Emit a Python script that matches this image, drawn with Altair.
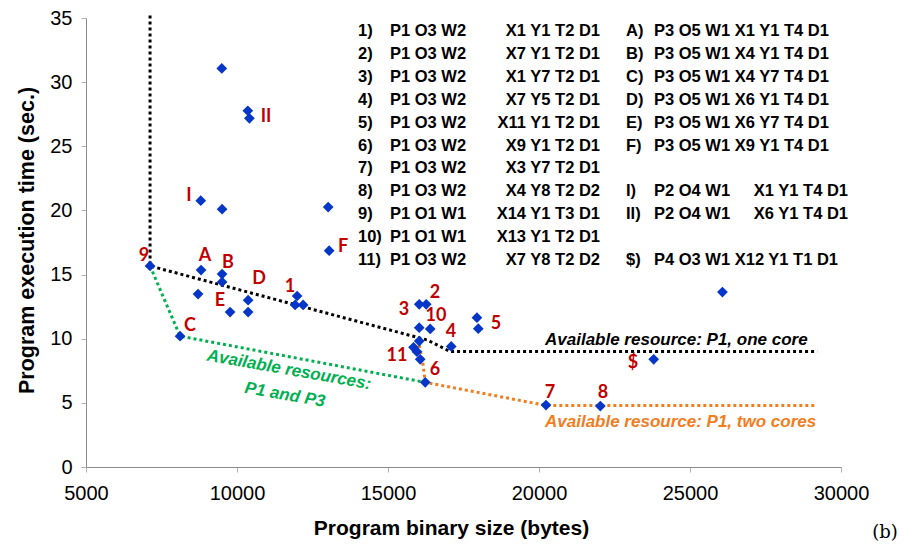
import altair as alt
import pandas as pd

# ---------------- data ----------------
pt_x = [7121, 8115, 8810, 9506, 9506, 8711, 9771, 10368, 10368,
        11991, 11925, 12190, 13052, 13019, 8800, 9506, 9496, 10358, 10411,
        26074, 16034, 16266, 16034, 16398, 16034, 15845, 15958, 16067,
        17094, 17945, 17989, 16233, 20232, 22031, 23798]
pt_y = [15.67, 10.2, 15.35, 15.04, 14.42, 13.48, 12.08, 13.0, 12.08,
        13.33, 12.63, 12.63, 16.86, 20.26, 20.76, 20.1, 31.07, 27.77, 27.18,
        13.64, 12.68, 12.68, 10.86, 10.76, 9.82, 9.33, 8.99, 8.39,
        9.4, 11.64, 10.78, 6.6, 4.83, 4.75, 8.39]

lab_text = ["9", "A", "B", "C", "D", "E", "1", "F", "I", "II",
            "2", "3", "10", "4", "5", "11", "6", "7", "8", "$"]
lab_px = [144, 205, 228, 190, 259, 220, 290, 343, 189, 266,
          435, 404, 436, 451, 496, 397, 435, 550, 603, 633]
lab_py = [256, 256, 263, 326, 279, 301, 287, 247, 196, 117,
          293, 310, 316, 332, 324, 356, 370, 393, 393, 363]

black_x = [7121, 7121, 16300, 17061, 29211]
black_y = [35.2, 15.67, 9.9, 9.0, 9.0]
green_x = [7121, 8115, 16233]
green_y = [15.67, 10.2, 6.6]
orange_x = [16034, 16150, 16233, 20232, 29211]
orange_y = [9.5, 8.2, 6.6, 4.8, 4.8]

leg_num = ["1)", "2)", "3)", "4)", "5)", "6)", "7)", "8)", "9)", "10)", "11)"]
leg_pow = ["P1 O3 W2", "P1 O3 W2", "P1 O3 W2", "P1 O3 W2", "P1 O3 W2", "P1 O3 W2",
           "P1 O3 W2", "P1 O3 W2", "P1 O1 W1", "P1 O1 W1", "P1 O3 W2"]
leg_rest = ["X1 Y1 T2 D1", "X7 Y1 T2 D1", "X1 Y7 T2 D1", "X7 Y5 T2 D1", "X11 Y1 T2 D1",
            "X9 Y1 T2 D1", "X3 Y7 T2 D1", "X4 Y8 T2 D2", "X14 Y1 T3 D1",
            "X13 Y1 T2 D1", "X7 Y8 T2 D2"]
right_lab = ["A)", "B)", "C)", "D)", "E)", "F)", "I)", "II)", "$)"]
right_row = [0, 1, 2, 3, 4, 5, 7, 8, 10]
right_text = ["P3 O5 W1 X1 Y1 T4 D1", "P3 O5 W1 X4 Y1 T4 D1", "P3 O5 W1 X4 Y7 T4 D1",
              "P3 O5 W1 X6 Y1 T4 D1", "P3 O5 W1 X6 Y7 T4 D1", "P3 O5 W1 X9 Y1 T4 D1",
              "P2 O4 W1", "P2 O4 W1", "P4 O3 W1 X12 Y1 T1 D1"]
right_tail = ["", "", "", "", "", "", "X1 Y1 T4 D1", "X6 Y1 T4 D1", ""]

# ---------------- layout helpers (pixel -> data) ----------------
W, H = 755, 449
XD = [5000, 30000]
YD = [0, 35]


def X(px):
    return XD[0] + (px - 86) / W * (XD[1] - XD[0])


def Y(py):
    return (467 - py) / H * (YD[1] - YD[0])


xs = alt.Scale(domain=XD, nice=False, zero=False)
ys = alt.Scale(domain=YD, nice=False)

BLUE = "#0536C8"
RED = "#C00000"
GREEN = "#00B050"
ORANGE = "#F07D1E"

pts = pd.DataFrame({"x": pt_x, "y": pt_y})
labs = pd.DataFrame({"x": [X(p) for p in lab_px], "y": [Y(p) for p in lab_py], "t": lab_text})


def line_df(xv, yv):
    return pd.DataFrame({"x": xv, "y": yv, "o": list(range(len(xv)))})


def dotted(df, color):
    return alt.Chart(df).mark_line(color=color, strokeWidth=3, strokeDash=[3, 3],
                                   strokeCap="butt", clip=False).encode(
        x=alt.X("x:Q", scale=xs), y=alt.Y("y:Q", scale=ys), order="o:Q")


base_x = alt.X("x:Q", scale=xs,
               axis=alt.Axis(title="Program binary size (bytes)", values=[5000, 10000, 15000, 20000, 25000, 30000],
                             format="d", titleX=365, titleY=61, titleBaseline="middle",
                             titleFontSize=21, labelFlush=False, labelPadding=11))
base_y = alt.Y("y:Q", scale=ys,
               axis=alt.Axis(title="Program execution time (sec.)", values=[0, 5, 10, 15, 20, 25, 30, 35],
                             titleX=-59, titleY=222, titleAngle=-90, titleBaseline="middle",
                             titleFontSize=21.5, labelFlush=False, labelPadding=9))

lines = (dotted(line_df(green_x, green_y), GREEN)
         + dotted(line_df(orange_x, orange_y), ORANGE)
         + dotted(line_df(black_x, black_y), "black"))

points = alt.Chart(pts).mark_point(shape="diamond", filled=True, size=115, opacity=1,
                                   color=BLUE).encode(x=base_x, y=base_y)

labels = alt.Chart(labs).mark_text(font="Lato", fontWeight="bold", fontSize=18, color=RED,
                                   baseline="middle", align="center").encode(
    x=alt.X("x:Q", scale=xs), y=alt.Y("y:Q", scale=ys), text="t:N")

# legend block
row_py = [31 + i * 22.9 for i in range(11)]
LF = "Liberation Sans"
LFS = 16.5
left_df = pd.DataFrame({
    "yn": [Y(p) for p in row_py],
    "num": leg_num, "pw": leg_pow, "rest": leg_rest})
left_df["xa"] = X(358)
left_df["xb"] = X(390)
left_df["xc"] = X(600)


def legtext(df, xfield, tfield, align):
    return alt.Chart(df).mark_text(font=LF, fontWeight="bold", fontSize=LFS, color="black",
                                   align=align, baseline="middle").encode(
        x=alt.X(f"{xfield}:Q", scale=xs), y=alt.Y("yn:Q", scale=ys), text=f"{tfield}:N")


right_df = pd.DataFrame({
    "yn": [Y(row_py[r]) for r in right_row],
    "lab": right_lab, "txt": right_text, "tail": right_tail})
right_df["xa"] = X(626)
right_df["xb"] = X(654)
right_df["xc"] = X(848)

legend = (legtext(left_df, "xa", "num", "left") + legtext(left_df, "xb", "pw", "left")
          + legtext(left_df, "xc", "rest", "right")
          + legtext(right_df, "xa", "lab", "left") + legtext(right_df, "xb", "txt", "left")
          + legtext(right_df, "xc", "tail", "right"))

ann = pd.DataFrame({
    "x": [X(545), X(545)], "y": [Y(340), Y(422)],
    "t": ["Available resource: P1, one core", "Available resource:  P1, two cores"],
    "c": ["black", ORANGE]})
ann_text = alt.Chart(ann).mark_text(font="Liberation Sans", fontWeight="bold", fontStyle="italic",
                                    fontSize=17, align="left", baseline="middle").encode(
    x=alt.X("x:Q", scale=xs), y=alt.Y("y:Q", scale=ys), text="t:N",
    color=alt.Color("c:N", scale=None))

gann = pd.DataFrame({"x": [X(289), X(285)], "y": [Y(370), Y(395)],
                     "t": ["Available resources:", "P1 and P3"]})
green_text = alt.Chart(gann).mark_text(font="Liberation Sans", fontWeight="bold", fontStyle="italic",
                                       fontSize=17, align="center", baseline="middle", angle=10,
                                       color=GREEN).encode(
    x=alt.X("x:Q", scale=xs), y=alt.Y("y:Q", scale=ys), text="t:N")

tag = alt.Chart(pd.DataFrame({"t": ["(b)"]})).mark_text(
    font="DejaVu Serif", fontSize=18, align="center", baseline="middle", color="black").encode(
    x=alt.value(799), y=alt.value(515), text="t:N")

chart = alt.layer(lines, points, labels, legend, ann_text, green_text, tag).properties(
    width=W, height=H,
    autosize=alt.AutoSizeParams(type="none"),
    padding={"left": 78, "top": 10, "right": 68, "bottom": 75},
).configure_view(stroke=None).configure_axis(
    grid=False, domainColor="#8c8c8c", tickColor="#b0b0b0", tickSize=5,
    labelFont="Liberation Sans", labelFontSize=20, labelColor="black",
    titleFont="Liberation Sans", titleFontWeight="bold", titleColor="black",
)

chart.save("out.html", embed_options={"renderer": "svg", "actions": False})
